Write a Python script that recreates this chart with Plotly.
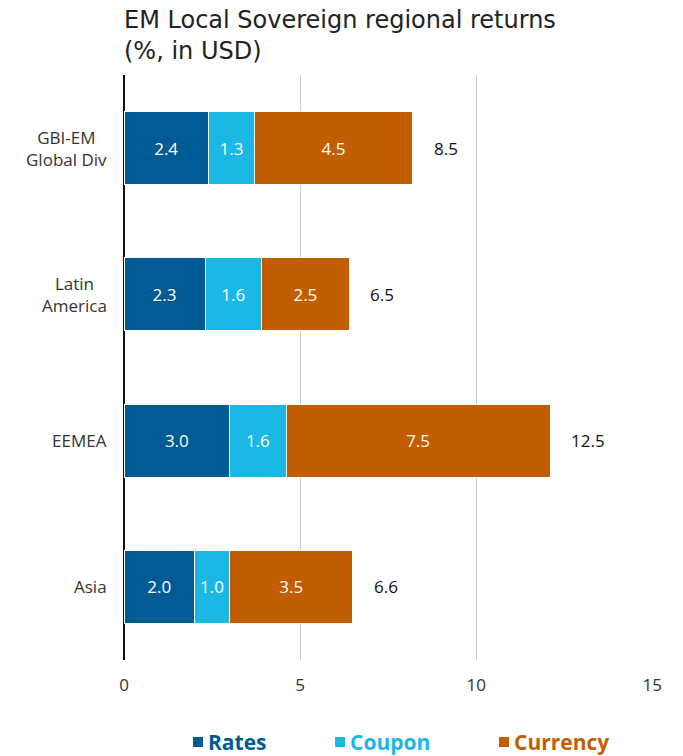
import plotly.graph_objects as go

categories = ["GBI-EM<br>Global Div", "Latin<br>America", "EEMEA", "Asia"]
rates = [2.4, 2.3, 3.0, 2.0]
coupon = [1.3, 1.6, 1.6, 1.0]
currency = [4.5, 2.5, 7.5, 3.5]
totals = ["8.5", "6.5", "12.5", "6.6"]
series_names = ["Rates", "Coupon", "Currency"]
colors = ["#005b94", "#1bb8e6", "#c25e00"]
x_ticks = [0, 5, 10, 15]

FONT = "Open Sans"
fig = go.Figure()
for name, vals, col in zip(series_names, [rates, coupon, currency], colors):
    fig.add_trace(go.Bar(
        y=categories, x=vals, name=name, orientation="h",
        marker=dict(color=col, line=dict(color="white", width=1)),
        texttemplate="%{x:.1f}", textposition="inside", insidetextanchor="middle",
        textfont=dict(color="white", size=17, family=FONT),
        constraintext="none", showlegend=False, hoverinfo="x+name",
    ))

ann = []
for cat, r, c, cu, t in zip(categories, rates, coupon, currency, totals):
    ann.append(dict(x=r + c + cu, y=cat, xref="x", yref="y", text=t, showarrow=False,
                    xanchor="left", xshift=19, font=dict(size=17, color="#111", family=FONT)))
    ann.append(dict(x=0, y=cat, xref="paper", yref="y", text=cat, showarrow=False,
                    xanchor="right", align="center", xshift=-15,
                    font=dict(size=17, color="#333", family=FONT)))

legend_pos = [(0.1304, 0.1588), (0.3989, 0.4272), (0.7089, 0.7372)]
shapes = []
for (sx, tx), name, col in zip(legend_pos, series_names, colors):
    shapes.append(dict(type="rect", xref="paper", yref="paper", x0=sx, x1=sx + 0.0189,
                       y0=-0.1487, y1=-0.1316, fillcolor=col, line=dict(width=0)))
    ann.append(dict(x=tx, y=-0.140, xref="paper", yref="paper", text="<b>%s</b>" % name,
                    showarrow=False, xanchor="left", yanchor="middle", xshift=-2,
                    font=dict(size=21, color=col, family=FONT)))

ann.append(dict(x=0, y=1, xref="paper", yref="paper", xanchor="left", yanchor="bottom",
                xshift=-2, yshift=8, align="left", showarrow=False,
                text="EM Local Sovereign regional returns<br>(%, in USD)",
                font=dict(size=24, color="#222", family="DejaVu Sans")))

fig.update_layout(
    barmode="stack", bargap=0.5,
    width=683, height=756,
    margin=dict(l=124, r=30, t=75, b=96),
    paper_bgcolor="white", plot_bgcolor="white",
    font=dict(family=FONT, color="#333"),
    xaxis=dict(range=[0, 15.02], tickvals=x_ticks, showgrid=True, gridcolor="#cccccc", gridwidth=1,
               zeroline=True, zerolinecolor="#111", zerolinewidth=2,
               ticks="outside", ticklen=10, tickcolor="white",
               tickfont=dict(size=17, color="#333", family=FONT)),
    yaxis=dict(categoryorder="array", categoryarray=categories, autorange="reversed",
               showticklabels=False, showgrid=False, zeroline=False),
    annotations=ann, shapes=shapes, showlegend=False,
)
fig.write_html("out.html", config={"displayModeBar": False},
               post_script="document.body.style.margin='0';")
